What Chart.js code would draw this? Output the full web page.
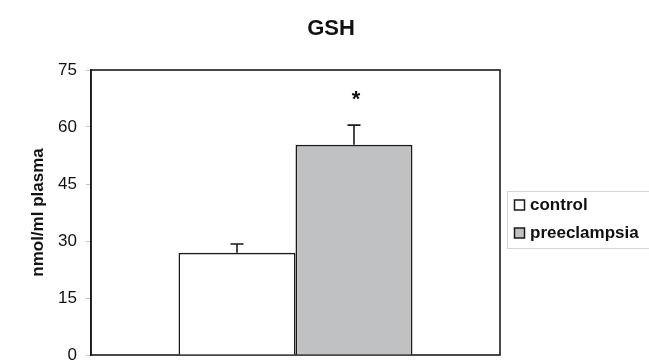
<!DOCTYPE html>
<html>
<head>
<meta charset="utf-8">
<script src="https://cdn.jsdelivr.net/npm/chart.js@4"></script>
<style>
  html, body { margin: 0; padding: 0; background: #fff; }
  #wrap { width: 649px; height: 361px; }
</style>
</head>
<body>
<div id="wrap"><canvas id="c" width="649" height="361"></canvas></div>
<script>
// GSH plasma levels, control vs preeclampsia (mean + SEM)
const categories = [''];
const seriesNames = ['control', 'preeclampsia'];
const controlMean = [26.9];
const preeclampsiaMean = [55.3];
const controlSem = [2.3];
const preeclampsiaSem = [5.2];
const significanceMarks = ['', '*'];
const significanceLevel = 68.2;
const yTicks = [0, 15, 30, 45, 60, 75];
const chartTitle = 'GSH';
const yTitle = 'nmol/ml plasma';

const FONT = "'Liberation Sans', Arial, Helvetica, sans-serif";
const fillColors = ['#ffffff', '#c0c1c3'];
const semValues = [controlSem, preeclampsiaSem];

// Box around the plotting area
const framePlugin = {
  id: 'frame',
  beforeDatasetsDraw(chart) {
    const { ctx, chartArea: a } = chart;
    ctx.save();
    ctx.strokeStyle = '#1a1a1a';
    ctx.lineWidth = 1.6;
    ctx.strokeRect(a.left, a.top, a.right - a.left, a.bottom - a.top);
    ctx.restore();
  }
};

// Upper error whiskers and significance marks
const errorBarPlugin = {
  id: 'errorBars',
  afterDatasetsDraw(chart) {
    const { ctx } = chart;
    const y = chart.scales.y;
    ctx.save();
    chart.data.datasets.forEach((ds, i) => {
      const meta = chart.getDatasetMeta(i);
      meta.data.forEach((bar, j) => {
        const top = y.getPixelForValue(ds.data[j] + semValues[i][j]);
        ctx.strokeStyle = '#1a1a1a';
        ctx.lineWidth = 1.6;
        ctx.beginPath();
        ctx.moveTo(bar.x, bar.y);
        ctx.lineTo(bar.x, top);
        ctx.moveTo(bar.x - 6.5, top);
        ctx.lineTo(bar.x + 6.5, top);
        ctx.stroke();
        if (significanceMarks[i]) {
          ctx.fillStyle = '#111';
          ctx.font = 'bold 22px ' + FONT;
          ctx.textAlign = 'center';
          ctx.textBaseline = 'middle';
          ctx.fillText(significanceMarks[i], bar.x + 2, y.getPixelForValue(significanceLevel) + 4);
        }
      });
    });
    ctx.restore();
  }
};

// Chart title and boxed legend on the right
const decorPlugin = {
  id: 'decor',
  afterDraw(chart) {
    const { ctx } = chart;
    ctx.save();
    ctx.fillStyle = '#111';
    ctx.font = 'bold 22px ' + FONT;
    ctx.textAlign = 'center';
    ctx.textBaseline = 'middle';
    ctx.fillText(chartTitle, 331, 29);

    ctx.strokeStyle = '#d4d4d4';
    ctx.lineWidth = 1;
    ctx.strokeRect(507.5, 191.5, 150, 57);

    chart.data.datasets.forEach((ds, i) => {
      const cy = 205 + i * 28;
      ctx.fillStyle = ds.backgroundColor;
      ctx.fillRect(514.5, cy - 5, 10, 10);
      ctx.strokeStyle = '#1a1a1a';
      ctx.lineWidth = 1.5;
      ctx.strokeRect(514.5, cy - 5, 10, 10);
      ctx.fillStyle = '#111';
      ctx.font = 'bold 17px ' + FONT;
      ctx.textAlign = 'left';
      ctx.textBaseline = 'middle';
      ctx.fillText(ds.label, 530, cy);
    });
    ctx.restore();
  }
};

new Chart(document.getElementById('c'), {
  type: 'bar',
  data: {
    labels: categories,
    datasets: [
      { label: seriesNames[0], data: controlMean, backgroundColor: fillColors[0] },
      { label: seriesNames[1], data: preeclampsiaMean, backgroundColor: fillColors[1] }
    ]
  },
  options: {
    responsive: false,
    devicePixelRatio: 1,
    animation: false,
    layout: { padding: { top: 70, right: 149, bottom: 6, left: 0 } },
    datasets: {
      bar: {
        borderColor: '#1a1a1a',
        borderWidth: 1.6,
        barPercentage: 1.0,
        categoryPercentage: 0.572
      }
    },
    plugins: {
      legend: { display: false },
      title: { display: false },
      tooltip: { enabled: false }
    },
    scales: {
      x: { display: false },
      y: {
        min: 0,
        max: 75,
        afterBuildTicks(scale) { scale.ticks = yTicks.map(v => ({ value: v })); },
        afterFit(scale) {
          scale.width = 91;
          scale.paddingTop = 0;
          scale.paddingBottom = 0;
        },
        grid: { display: true, drawOnChartArea: false, drawTicks: true, tickLength: 5, color: '#c8c8c8' },
        border: { display: true, color: '#1a1a1a', width: 1.6 },
        ticks: { padding: 9, color: '#111', font: { family: FONT, size: 17 } },
        title: {
          display: true,
          text: yTitle,
          color: '#111',
          font: { family: FONT, size: 17, weight: 'bold' },
          padding: { top: 28, bottom: 0 }
        }
      }
    }
  },
  plugins: [framePlugin, errorBarPlugin, decorPlugin]
});
</script>
</body>
</html>
